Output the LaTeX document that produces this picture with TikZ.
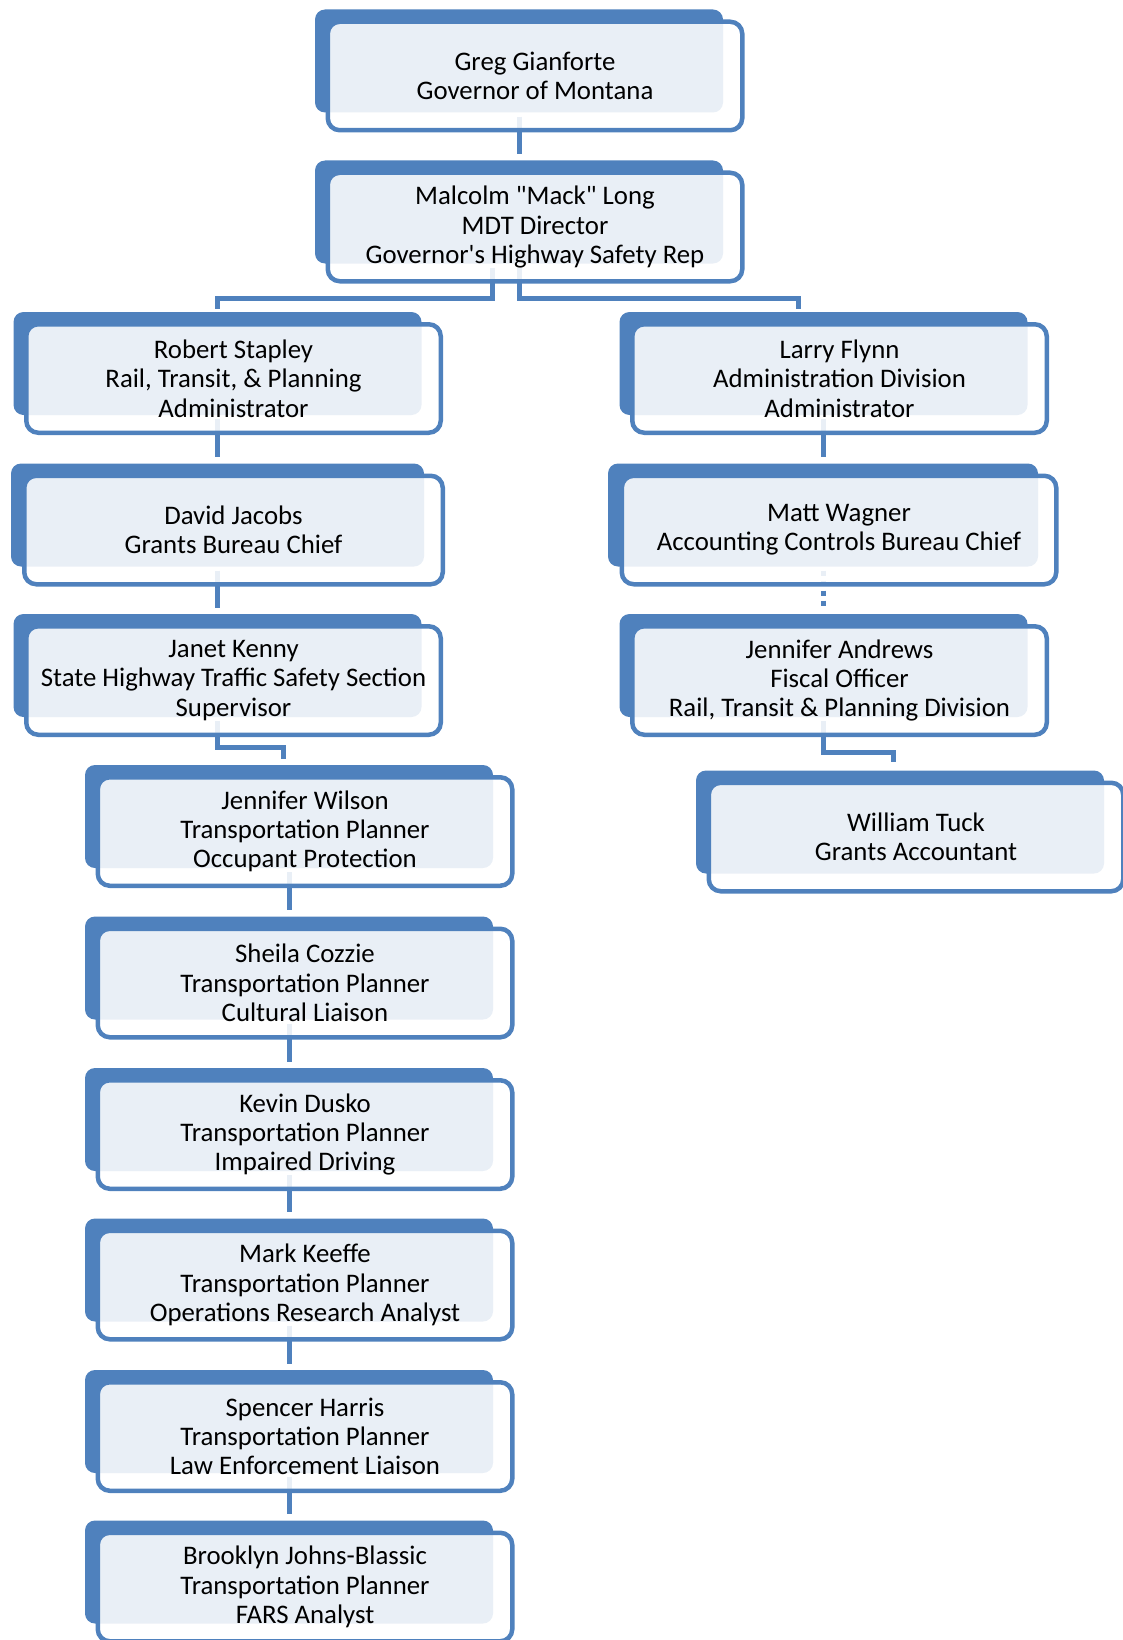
\documentclass[tikz,border=0pt]{standalone}
\usepackage{fontspec}
\setmainfont{Carlito}
\usepackage{tikz}
\usetikzlibrary{backgrounds,calc}
\definecolor{cardblue}{HTML}{4F81BD}

\begin{document}
\begin{tikzpicture}
[x=1pt, y=-1pt,
backbox/.style={fill=cardblue, rounded corners=10pt, inner sep=0pt,
minimum width=#1, minimum height=103pt},
backbox/.default=408pt,
card/.style={draw=cardblue, line width=4.5pt, rounded corners=12pt,
fill=white, fill opacity=0.88, text opacity=1,
xshift=16pt, yshift=-15pt, inner sep=0pt,
minimum width=#1, minimum height=108.5pt, align=center,
font=\fontsize{26.8}{29.3}\selectfont},
card/.default=414.5pt,
link/.style={cardblue, line width=5pt, shorten <=4pt, shorten >=6pt}]
\useasboundingbox (0,0) rectangle (1123,1640);

\node[backbox] (gov) at (519,61) {};
\node[card] (govc) at (gov) {Greg Gianforte\\Governor of Montana};
\node[backbox] (mdt) at (519,212) {};
\node[card] (mdtc) at (mdt) {Malcolm \textquotedbl Mack\textquotedbl{} Long\\MDT Director\\Governor\textquotesingle s Highway Safety Rep};

% left branch
\node[backbox] (rob) at (217.5,363.5) {};
\node[card] (robc) at (rob) {Robert Stapley\\Rail, Transit, \& Planning\\Administrator};
\node[backbox=413pt] (dav) at (217.5,515) {};
\node[card=418.5pt] (davc) at (dav) {David Jacobs\\Grants Bureau Chief};
\node[backbox] (jan) at (217.5,665.5) {};
\node[card] (janc) at (jan) {Janet Kenny\\State Highway Traffic Safety Section\\Supervisor};
\node[backbox] (jwi) at (289,816.5) {};
\node[card] (jwic) at (jwi) {Jennifer Wilson\\Transportation Planner\\Occupant Protection};
\node[backbox] (she) at (289,968) {};
\node[card] (shec) at (she) {Sheila Cozzie\\Transportation Planner\\Cultural Liaison};
\node[backbox] (kev) at (289,1119.5) {};
\node[card] (kevc) at (kev) {Kevin Dusko\\Transportation Planner\\Impaired Driving};
\node[backbox] (mar) at (289,1270) {};
\node[card] (marc) at (mar) {Mark Keeffe\\Transportation Planner\\Operations Research Analyst};
\node[backbox] (spe) at (289,1421.5) {};
\node[card] (spec) at (spe) {Spencer Harris\\Transportation Planner\\Law Enforcement Liaison};
\node[backbox] (bro) at (289,1572) {};
\node[card] (broc) at (bro) {Brooklyn Johns-Blassic\\Transportation Planner\\FARS Analyst};

% right branch
\node[backbox] (lar) at (823.5,363.5) {};
\node[card] (larc) at (lar) {Larry Flynn\\Administration Division\\Administrator};
\node[backbox=430pt] (mat) at (823,515) {};
\node[card=434.5pt] (matc) at (mat) {Matt Wagner\\Accounting Controls Bureau Chief};
\node[backbox] (jand) at (823.5,665.5) {};
\node[card] (jandc) at (jand) {Jennifer Andrews\\Fiscal Officer\\Rail, Transit \& Planning Division};
\node[backbox] (wil) at (900,822) {};
\node[card] (wilc) at (wil) {William Tuck\\Grants Accountant};

\begin{scope}[on background layer]
\draw[link] (gov.south) -- (mdt.north);
\draw[link, shorten >=3pt] ([xshift=-27pt]mdt.south) -- ++(0,35) -| (rob.north);
\draw[link, shorten >=3pt] (mdt.south) -- ++(0,35) -| ([xshift=-25.5pt]lar.north);
\draw[link] (rob.south) -- (dav.north);
\draw[link] (dav.south) -- (jan.north);
\draw[link] (jan.south) -- ++(0,30) -| ([xshift=-6pt]jwi.north);
\draw[link] (jwi.south) -- (she.north);
\draw[link] (she.south) -- (kev.north);
\draw[link] (kev.south) -- (mar.north);
\draw[link] (mar.south) -- (spe.north);
\draw[link] (spe.south) -- (bro.north);
\draw[link] (lar.south) -- (lar.south |- mat.north);
\draw[link, dash pattern=on 5pt off 5pt] (mat.south) -- (mat.south |- jand.north);
\draw[link, shorten >=8pt] (jand.south) -- ++(0,35) -| ([xshift=-7pt]wil.north);
\end{scope}

\end{tikzpicture}
\end{document}
